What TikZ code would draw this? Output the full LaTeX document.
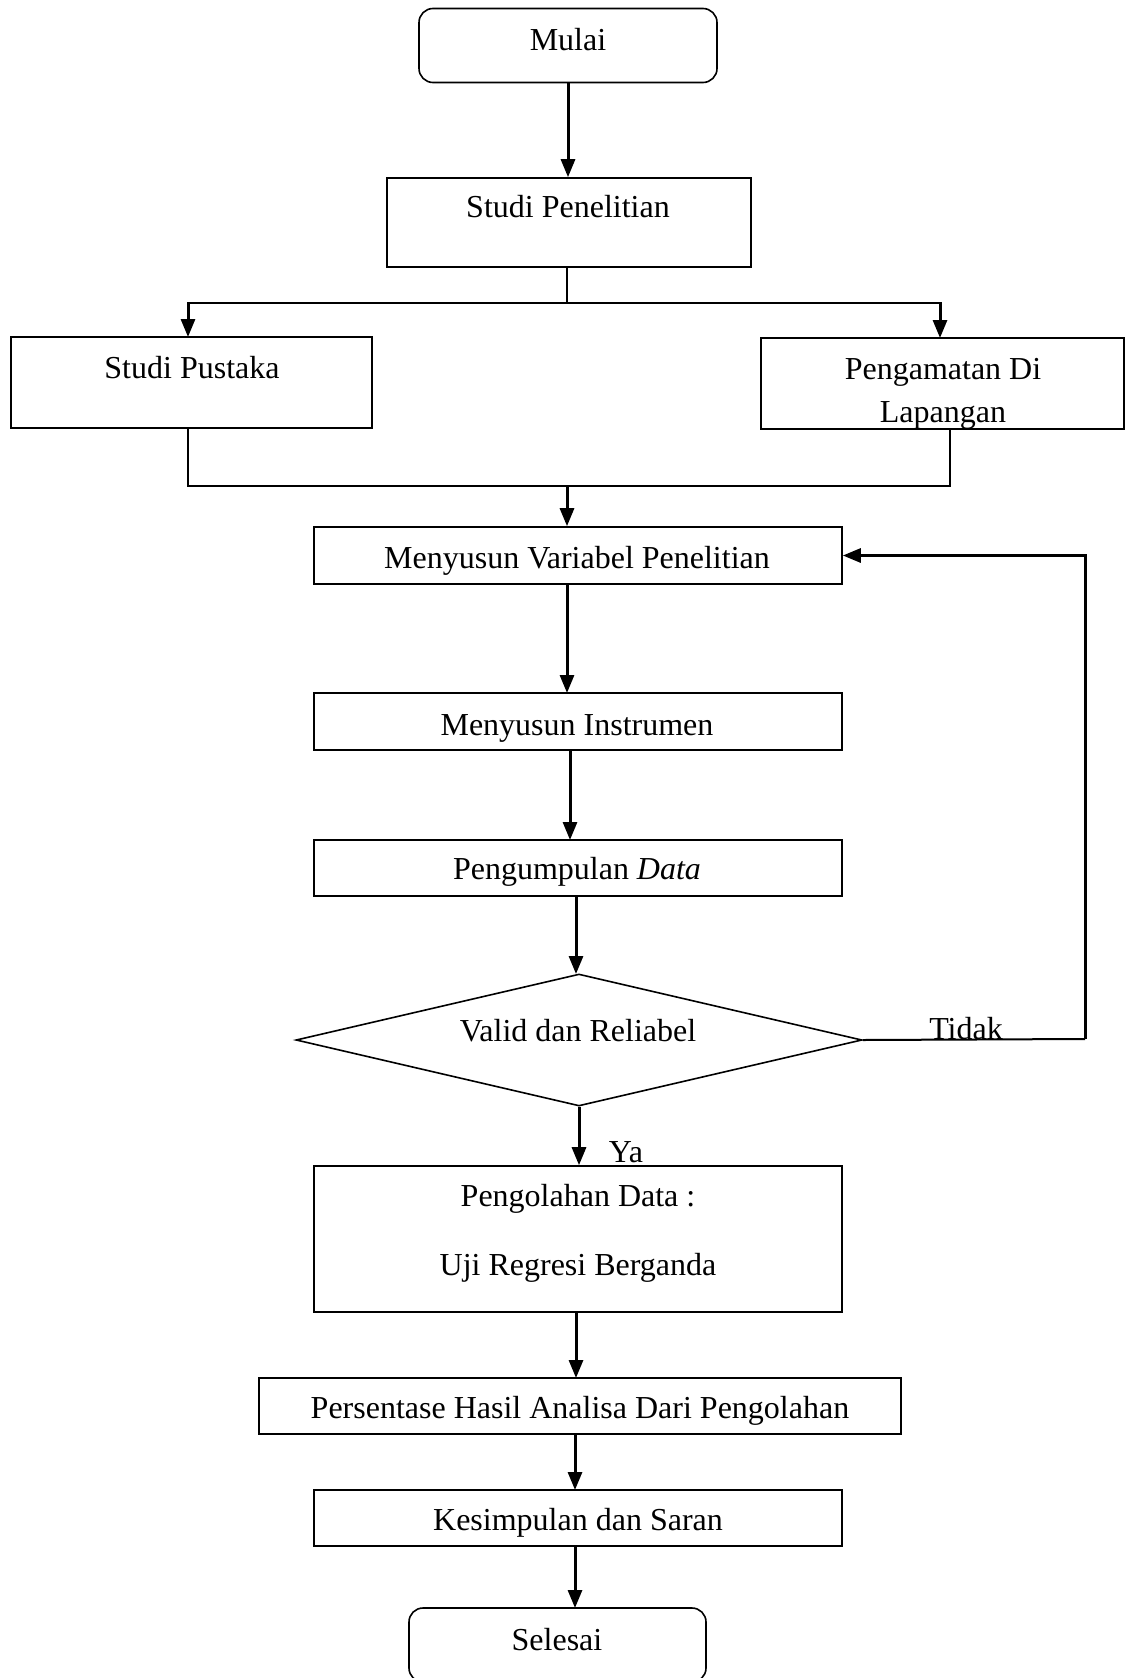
\documentclass[tikz,border=0pt]{standalone}
\usepackage{fontspec}
\setmainfont{Liberation Serif}
\usetikzlibrary{positioning,calc,arrows.meta,shapes.geometric}

\tikzset{
  box/.style={rectangle,draw,line width=1.6pt,inner sep=0pt},
  startstop/.style={box,rounded corners=14pt},
  decide/.style={diamond,draw,line width=1.6pt,inner sep=0pt},
  arr/.style={line width=3pt,-{Triangle[length=18pt,width=14pt]}},
  link/.style={line width=2pt},
  txt/.style={font=\fontsize{32}{43}\selectfont,align=center}
}

\begin{document}
\begin{tikzpicture}[x=1pt,y=-1pt]
\useasboundingbox (0,0) rectangle (1130,1678);
\fill[white] (0,0) rectangle (1130,1678);
% start
\node (mulai) at (568,45.5) [startstop,minimum width=298pt,minimum height=74pt] {};
\node (mulaiT) at (568,40) [txt] {Mulai};
\node (studi) at (569,222.5) [box,minimum width=364pt,minimum height=89pt] {};
\node (studiT) at (568,207) [txt] {Studi Penelitian};
\draw[arr] (mulai.south) -- (mulai.south |- studi.north);
% two studies
\node (pustaka) at (191.5,382.5) [box,minimum width=361pt,minimum height=91pt] {};
\node (pustakaT) at (192,368) [txt] {Studi Pustaka};
\node (amat) at (942.5,383.5) [box,minimum width=363pt,minimum height=91pt] {};
\begin{scope}
  \clip (amat.south west) rectangle (amat.north east);
  \node (amatT) at (943,394) [txt] {Pengamatan Di\\Lapangan};
\end{scope}
\coordinate (split) at (567,303);
\draw[link] (studi.south -| split) -- (split);
\draw[link] (188,303) -- (940,303);
\draw[arr] (188,302) -- (188,337);
\draw[arr] (940,302) -- (940,338);
% merge
\node (variabel) at (578,555.5) [box,minimum width=528pt,minimum height=57pt] {};
\node (variabelT) at (577,561) [txt] {Menyusun Variabel Penelitian};
\coordinate (merge) at (567,486);
\draw[link] (188,428) |- (merge) -| (950,429);
\draw[arr] (merge) -- (merge |- variabel.north);
% instruments and data
\node (instrumen) at (578,721.5) [box,minimum width=528pt,minimum height=57pt] {};
\node (instrumenT) at (577,728) [txt] {Menyusun Instrumen};
\node (kumpul) at (578,868) [box,minimum width=528pt,minimum height=56pt] {};
\node (kumpulT) at (577,872) [txt] {Pengumpulan \textit{Data}};
\draw[arr] (567,584) -- (567,693);
\draw[arr] (570,750) -- (570,840);
% decision
\node (valid) at (579,1040) [decide,minimum width=566pt,minimum height=132pt] {};
\node (validT) at (578,1031) [txt] {Valid dan Reliabel};
\draw[arr] (576,896) -- (576,974);
\coordinate (loop) at (1085,1039);
\draw[link] (valid.east) -- (loop);
\draw[arr] (loop) |- (variabel.east);
\node (tidak) at (966,1029) [txt] {Tidak};
% processing
\node (olah) at (578,1239) [box,minimum width=528pt,minimum height=146pt] {};
\node (olahA) at (578,1199) [txt] {Pengolahan Data :};
\node (olahB) at (578,1268) [txt] {Uji Regresi Berganda};
\draw[arr] (valid.south) -- (valid.south |- olah.north);
\node (ya) at (626,1152) [txt] {Ya};
\node (hasil) at (580,1406) [box,minimum width=642pt,minimum height=56pt] {};
\node (hasilT) at (580,1411) [txt] {Persentase Hasil Analisa Dari Pengolahan};
\draw[arr] (576,1312) -- (576,1378);
\node (simpul) at (578,1518) [box,minimum width=528pt,minimum height=56pt] {};
\node (simpulT) at (578,1523) [txt] {Kesimpulan dan Saran};
\draw[arr] (575,1434) -- (575,1490);
% end
\node (selesai) at (557.5,1645) [startstop,minimum width=297pt,minimum height=74pt] {};
\node (selesaiT) at (557,1640) [txt] {Selesai};
\draw[arr] (575,1546) -- (575,1608);
\end{tikzpicture}
\end{document}
